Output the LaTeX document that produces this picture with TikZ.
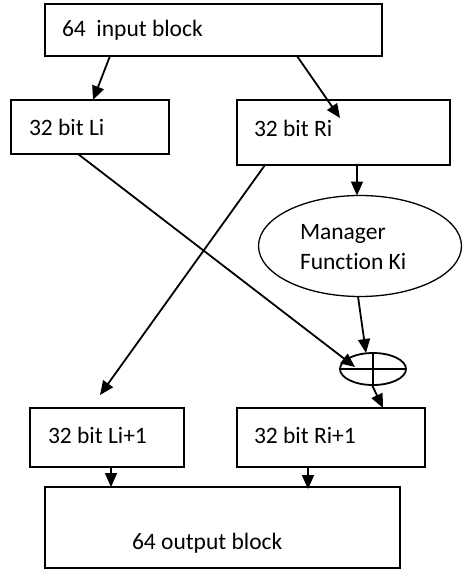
\documentclass[tikz,border=0pt]{standalone}
\usepackage{fontspec}
\setmainfont[Ligatures=NoCommon]{Carlito}
\usetikzlibrary{arrows.meta,calc,shapes.geometric}
\begin{document}
\begin{tikzpicture}[x=1pt,y=-1pt,
  every node/.style={outer sep=0pt},
  blk/.style={draw,line width=1.8pt,rectangle,inner sep=0pt},
  txt/.style={anchor=west,inner sep=0pt,font=\fontsize{23.5}{30}\selectfont},
  conn/.style={line width=1.8pt,-{Triangle[length=14pt,width=12pt]}}]
\useasboundingbox (0,0) rectangle (465,571);
% boxes
\node[blk,minimum width=337pt,minimum height=52pt] (in)  at (213.5,30) {};
\node[blk,minimum width=158pt,minimum height=54pt] (li)  at (90,127) {};
\node[blk,minimum width=213pt,minimum height=65pt] (ri)  at (343.5,132.5) {};
\node[blk,minimum width=154pt,minimum height=59pt] (li1) at (107,437.5) {};
\node[blk,minimum width=188pt,minimum height=59pt] (ri1) at (331,437.5) {};
\node[blk,minimum width=355pt,minimum height=81pt] (out) at (222.5,527.5) {};
% round function and xor
\node[draw,line width=1.3pt,ellipse,inner sep=0pt,minimum width=203pt,minimum height=101pt] (fk) at (360,246) {};
\node[draw,line width=1.8pt,ellipse,inner sep=0pt,minimum width=66pt,minimum height=32pt] (xor) at (373,369) {};
\draw[line width=1.8pt] (xor.west) -- (xor.east) (xor.north) -- (xor.south);
% labels
\node[txt] (inT)  at (62,30)   {64\ \ input block};
\node[txt] (liT)  at (29,127)  {32 bit Li};
\node[txt] (riT)  at (254,128) {32 bit Ri};
\node[txt,align=left] (fkT) at (300,247) {Manager\\Function Ki};
\node[txt] (li1T) at (48,435)  {32 bit Li+1};
\node[txt] (ri1T) at (254,435) {32 bit Ri+1};
\node[txt] (outT) at (132,543) {64 output block};
% connectors
\draw[conn] ($(in.south west)+(65,0)$) -- ($(li.north west)+(82,0)$);
\draw[conn] ($(in.south west)+(252,0)$) -- ($(ri.north west)+(103,18)$);
\draw[conn] ($(ri.south west)+(120,0)$) -- ($(fk.north)+(-3,0)$);
\draw[conn] ($(fk.south)+(-2,0)$) -- ($(xor.north)+(-7,0)$);
\draw[conn] ($(li.south west)+(67,0)$) -- ($(xor.center)+(-18,-2)$);
\draw[conn] ($(ri.south west)+(28,0)$) -- ($(li1.north west)+(70,-13)$);
\draw[conn] ($(xor.south)+(-1,0)$) -- ($(ri1.north west)+(146,0)$);
\draw[conn] ($(li1.south west)+(81,0)$) -- ($(out.north west)+(66,0)$);
\draw[conn] ($(ri1.south west)+(71,0)$) -- ($(out.north west)+(263,2)$);
\end{tikzpicture}
\end{document}
